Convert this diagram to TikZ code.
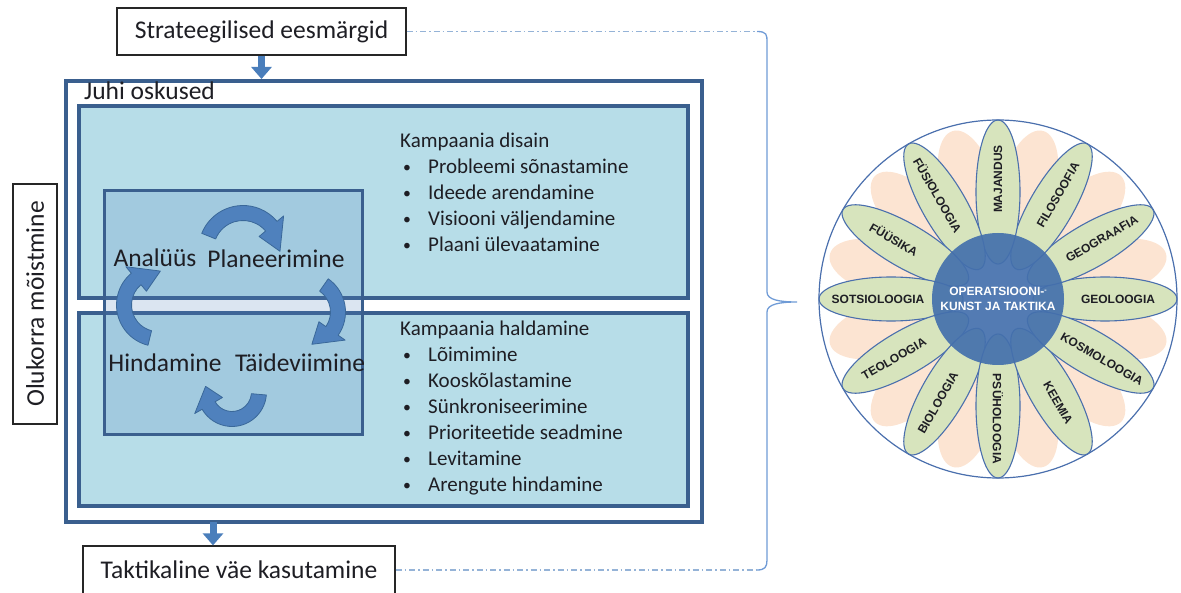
\documentclass[tikz,border=0pt]{standalone}
\usepackage{fontspec}
\setmainfont{Carlito}
\newfontfamily\petalfont{Liberation Sans}
\usetikzlibrary{calc,arrows.meta}

\definecolor{boxline}{HTML}{3A5F8E}
\definecolor{panelfill}{HTML}{B7DDE8}
\definecolor{flowblue}{HTML}{4A7EBB}
\definecolor{cycblue}{HTML}{4F81BD}
\definecolor{cycedge}{HTML}{3A6899}
\definecolor{greenpetal}{HTML}{D7E4BD}
\definecolor{peachpetal}{HTML}{FCE4D2}
\definecolor{petalline}{HTML}{4A6FAD}
\definecolor{hubblue}{HTML}{4470AC}
\definecolor{bracecol}{HTML}{6F9BD6}
\definecolor{dashcol}{HTML}{95B3D7}
\definecolor{ink}{HTML}{1E1E24}

\tikzset{
  labelbox/.style={draw=black!85, line width=1.2pt, fill=white, inner sep=0pt,
    text=ink, font=\fontsize{25.5}{30}\selectfont},
  frame/.style={draw=boxline, line width=4pt, inner sep=0pt},
  panel/.style={frame, fill=panelfill},
  cyclebox/.style={draw=boxline, line width=3pt, fill=cycblue, fill opacity=.2},
  cyclabel/.style={text=ink, inner sep=0pt, font=\fontsize{25.5}{30}\selectfont},
  listtext/.style={text=ink, inner sep=0pt, anchor=base west, font=\fontsize{21}{26}\selectfont},
  flowarrow/.style={draw=flowblue, line width=7pt, -{Triangle[length=12pt,width=20pt]}},
  cycarr/.style={fill=cycblue, draw=cycedge, line width=.8pt, line join=round},
  greenleaf/.style={fill=greenpetal, draw=petalline, line width=1.1pt},
  peachleaf/.style={fill=peachpetal},
  hub/.style={circle, fill=hubblue, fill opacity=.92, text opacity=1, text=white,
    minimum size=132pt, align=center, font=\petalfont\bfseries\fontsize{12}{14.5}\selectfont},
  rim/.style={circle, draw=petalline, line width=1.2pt, minimum size=358pt},
  petaltext/.style={text=ink, inner sep=0pt, font=\petalfont\bfseries\fontsize{12}{14}\selectfont},
  dashdot/.style={draw=dashcol, line width=1.3pt, dash pattern=on 6pt off 3pt on 1.5pt off 3pt},
  brace/.style={draw=bracecol, line width=1.3pt}
}

% block arrow bent round a centre: centre, radius, start, end, tip angle
\newcommand{\cycarrow}[5]{%
  \pgfmathsetmacro\rout{#2+7.5}\pgfmathsetmacro\rin{#2-7.5}%
  \pgfmathsetmacro\hout{#2+16}\pgfmathsetmacro\hin{#2-16}%
  \filldraw[cycarr] ($(#1)+(#3:\rout)$) arc[start angle=#3, end angle=#4, radius=\rout]
    -- ($(#1)+(#4:\hout)$) -- ($(#1)+(#5:#2)$) -- ($(#1)+(#4:\hin)$)
    -- ($(#1)+(#4:\rin)$) arc[start angle=#4, end angle=#3, radius=\rin] -- cycle;}
\newcommand{\blt}{\hspace{3pt}\raisebox{1pt}{\scalebox{.75}{\textbullet}}}

\begin{document}
\begin{tikzpicture}[x=1pt,y=1pt]
\useasboundingbox (0,0) rectangle (1181,592);

\node(strat) at (261.5,560.5)[labelbox, minimum width=289pt, minimum height=47pt] {Strateegilised eesmärgid};
\node(juhi)  at (384,290.5)[frame, fill=white, minimum width=636pt, minimum height=441pt] {};
\node(juhitxt) at (84,510)[cyclabel, anchor=north west] {Juhi oskused};
\node(design) at (383.5,390)[panel, minimum width=609pt, minimum height=192pt] {};
\node(manage) at (383.5,182.5)[panel, minimum width=609pt, minimum height=193pt] {};
\node(cycle) at (233,279)[cyclebox, minimum width=258pt, minimum height=244pt] {};
\node(olukord) at (35,288)[labelbox, rotate=90, minimum width=240pt, minimum height=44pt] {Olukorra mõistmine};
\node(takt) at (239,22)[labelbox, minimum width=312pt, minimum height=48pt] {Taktikaline väe kasutamine};

\coordinate (down) at (213,70);
\draw[flowarrow] (strat.south) -- (strat.south |- juhi.north);
\draw[flowarrow] (down) -- (down |- takt.north);

% cycle
\cycarrow{243,342}{37}{158}{40}{-2}
\cycarrow{305,280}{33}{55}{-35}{-78}
\cycarrow{232,200}{27}{-5}{-150}{-192}
\cycarrow{158,287}{34}{256}{130}{86}

\node(analyys) at (155,334)[cyclabel] {Analüüs};
\node(plan)    at (276,333)[cyclabel] {Planeerimine};
\node(hind)    at (165,229)[cyclabel] {Hindamine};
\node(taide)   at (300,229)[cyclabel] {Täideviimine};

\node(designlist) at (400,444)[listtext] {\begin{tabular}[t]{@{}p{28pt}@{}l@{}}
\multicolumn{2}{@{}l@{}}{Kampaania disain}\\
\blt & Probleemi sõnastamine\\
\blt & Ideede arendamine\\
\blt & Visiooni väljendamine\\
\blt & Plaani ülevaatamine
\end{tabular}};
\node(managelist) at (400,256)[listtext] {\begin{tabular}[t]{@{}p{28pt}@{}l@{}}
\multicolumn{2}{@{}l@{}}{Kampaania haldamine}\\
\blt & Lõimimine\\
\blt & Kooskõlastamine\\
\blt & Sünkroniseerimine\\
\blt & Prioriteetide seadmine\\
\blt & Levitamine\\
\blt & Arengute hindamine
\end{tabular}};

% brace to the flower
\coordinate (bt) at (757,560.5);
\coordinate (bb) at (757,22);
\coordinate (tip) at (797,290);
\draw[dashdot] (strat.east) -- (bt);
\draw[dashdot] (takt.east) -- (bb);
\draw[brace] (bt) .. controls (767,560.5) and (767,557) .. (767,550) -- (767,300)
  .. controls (767,292) and (780,290) .. (tip)
  .. controls (780,290) and (767,288) .. (767,280) -- (767,32)
  .. controls (767,25) and (765,22) .. (bb);

% flower
\coordinate (fc) at (998,293);
\foreach \a in {15,45,...,345}{
  \begin{scope}[shift={(fc)}, rotate=\a]
    \fill[peachleaf] (112,0) ellipse [x radius=62, y radius=28];
  \end{scope}}
\foreach \a in {0,30,...,330}{
  \begin{scope}[shift={(fc)}, rotate=\a]
    \draw[greenleaf] (107,0) ellipse [x radius=72, y radius=22];
  \end{scope}}
\node(hub) at (fc)[hub] {OPERATSIOONI-\raisebox{3pt}{\scalebox{.6}{-}}\\KUNST JA TAKTIKA};
\node(rim) at (fc)[rim] {};
\foreach \a/\t in {90/MAJANDUS, 60/FILOSOOFIA, 30/GEOGRAAFIA, 0/GEOLOOGIA,
    -30/KOSMOLOOGIA, -60/KEEMIA, -90/PSÜHOLOOGIA, 240/BIOLOOGIA,
    210/TEOLOOGIA, 180/SOTSIOLOOGIA, 150/FÜÜSIKA, 120/FÜSIOLOOGIA}{
  \pgfmathsetmacro\r{\a+180*((\a>90)*(\a<270))}
  \node(leaf\a) at ($(fc)+(\a:120)$)[petaltext, rotate=\r] {\t};}

\end{tikzpicture}
\end{document}
